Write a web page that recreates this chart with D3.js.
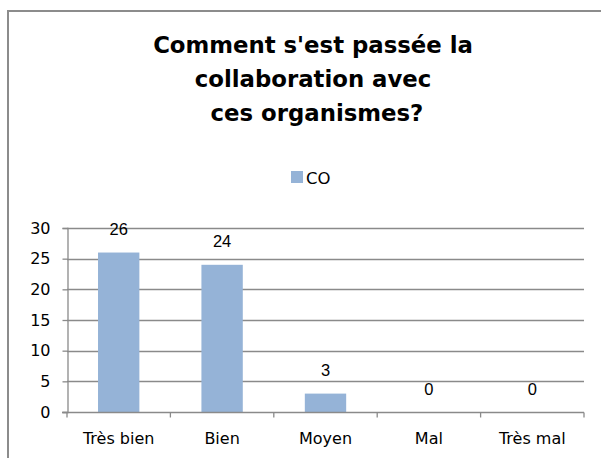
<!DOCTYPE html>
<html><head><meta charset="utf-8">
<script src="https://cdn.jsdelivr.net/npm/d3@7"></script>
<style>body{margin:0;background:#fff}svg{display:block}</style>
</head><body>
<svg id="c" width="601" height="458"></svg>
<script>
const categories = ["Très bien", "Bien", "Moyen", "Mal", "Très mal"];
const values = [26, 24, 3, 0, 0];
const seriesName = "CO";
const yTicks = [0, 5, 10, 15, 20, 25, 30];
const titleLines = ["Comment s'est passée la", "collaboration avec", " ces organismes?"];

const svg = d3.select("#c");
const barColor = "#95B3D7";
const gridColor = "#8a8a8a";

// frame
svg.append("rect").attr("x", 8).attr("y", 11).attr("width", 610).attr("height", 470)
  .attr("fill", "#fff").attr("stroke", "#8c8c8c").attr("stroke-width", 2);

// title
const title = svg.append("text").attr("text-anchor", "middle")
  .attr("font-family", "'DejaVu Sans', sans-serif").attr("font-weight", "bold")
  .attr("font-size", 22.8).attr("fill", "#000").style("white-space", "pre");
titleLines.forEach((t, i) => {
  title.append("tspan").attr("x", 313).attr("y", 53 + i * 34).text(t);
});

// legend
const lg = svg.append("g");
lg.append("rect").attr("x", 291).attr("y", 171).attr("width", 12).attr("height", 12).attr("fill", barColor);
lg.append("text").attr("x", 306).attr("y", 184).attr("font-family", "'DejaVu Sans', sans-serif")
  .attr("font-size", 16.5).text(seriesName);

const x = d3.scaleBand().domain(categories).range([67, 584]).paddingInner(0).paddingOuter(0);
const y = d3.scaleLinear().domain([0, 30]).range([412, 228]);

// gridlines
svg.append("g").selectAll("line").data(yTicks.filter(d => d > 0)).join("line")
  .attr("x1", 67).attr("x2", 584)
  .attr("y1", d => Math.round(y(d)) + 0.5).attr("y2", d => Math.round(y(d)) + 0.5)
  .attr("stroke", gridColor).attr("stroke-width", 1.3);

// bars
const bw = x.bandwidth() * 0.4;
svg.append("g").selectAll("rect").data(values).join("rect")
  .attr("x", (d, i) => x(categories[i]) + x.bandwidth() / 2 - bw / 2)
  .attr("width", bw)
  .attr("y", d => y(d)).attr("height", d => y(0) - y(d))
  .attr("fill", barColor);

// y axis
const yAxis = svg.append("g").attr("transform", "translate(67.5,0)")
  .call(d3.axisLeft(y).tickValues(yTicks).tickSize(5).tickPadding(12));
yAxis.select(".domain").attr("stroke", gridColor).attr("stroke-width", 1.3);
yAxis.selectAll(".tick line").attr("stroke", gridColor).attr("stroke-width", 1.3);
yAxis.selectAll(".tick text").attr("font-family", "'DejaVu Sans', sans-serif").attr("font-size", 16).attr("fill", "#000");

// x axis
const xAxis = svg.append("g").attr("transform", "translate(0," + (Math.round(y(0)) + 0.5) + ")");
xAxis.append("line").attr("x1", 62).attr("x2", 584).attr("stroke", gridColor).attr("stroke-width", 1.3);
const bounds = categories.map(c => x(c)).concat([x.range()[1]]);
xAxis.selectAll("line.t").data(bounds).join("line").attr("class", "t")
  .attr("x1", d => d).attr("x2", d => d).attr("y1", 0).attr("y2", 5)
  .attr("stroke", gridColor).attr("stroke-width", 1.3);
xAxis.selectAll("text").data(categories).join("text")
  .attr("x", d => x(d) + x.bandwidth() / 2).attr("y", 31).attr("text-anchor", "middle")
  .attr("font-family", "'DejaVu Sans', sans-serif").attr("font-size", 16).text(d => d);

// data labels
svg.append("g").selectAll("text").data(values).join("text")
  .attr("x", (d, i) => x(categories[i]) + x.bandwidth() / 2)
  .attr("y", d => y(d) - 17.5).attr("text-anchor", "middle")
  .attr("font-family", "'Liberation Sans', Arial, sans-serif").attr("font-size", 16.5).text(d => d);
</script>
</body></html>
